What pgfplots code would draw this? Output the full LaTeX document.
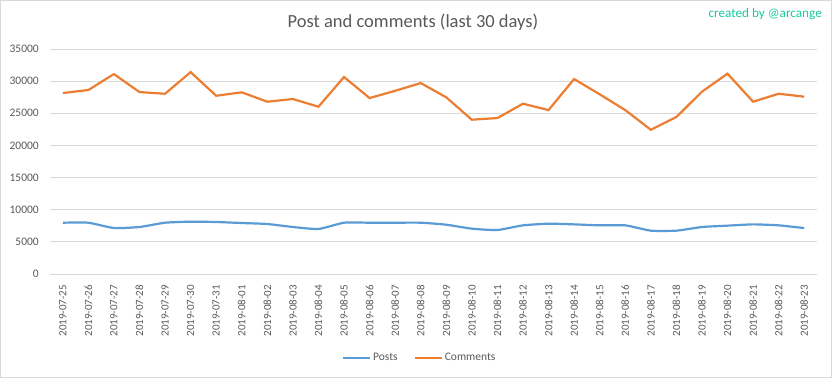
\documentclass[border=0pt]{standalone}
\usepackage{fontspec}
\setmainfont{Carlito}
\usepackage{pgfplots}
\pgfplotsset{compat=1.18}
\definecolor{postc}{HTML}{5B9BD5}
\definecolor{commc}{HTML}{ED7D31}
\definecolor{gridc}{HTML}{D9D9D9}
\definecolor{txtc}{HTML}{595959}
\definecolor{credc}{HTML}{1CC7A0}
\begin{document}
\begin{tikzpicture}[x=1pt,y=1pt]
\useasboundingbox (0,0) rectangle (832,378);
\draw[gridc, line width=1pt] (0.5,0.5) rectangle (831.5,377.5);
\begin{axis}[
  at={(50pt,104pt)}, anchor=south west,
  width=767pt, height=225pt, scale only axis,
  xmin=-0.5, xmax=29.5, ymin=0, ymax=35000,
  ytick={0,5000,...,35000},
  xtick={0,...,29},
  xticklabels={2019-07-25,2019-07-26,2019-07-27,2019-07-28,2019-07-29,2019-07-30,2019-07-31,2019-08-01,2019-08-02,2019-08-03,2019-08-04,2019-08-05,2019-08-06,2019-08-07,2019-08-08,2019-08-09,2019-08-10,2019-08-11,2019-08-12,2019-08-13,2019-08-14,2019-08-15,2019-08-16,2019-08-17,2019-08-18,2019-08-19,2019-08-20,2019-08-21,2019-08-22,2019-08-23},
  axis line style={draw=none},
  major tick length=0pt,
  ymajorgrids, grid style={gridc, line width=1pt},
  scaled y ticks=false,
  /pgf/number format/.cd, assume math mode=true, 1000 sep={}, /pgfplots/.cd,
  yticklabel style={font=\fontsize{11.5}{13}\selectfont, text=txtc, inner sep=0pt, anchor=east},
  yticklabel shift=11pt,
  xticklabel style={font=\fontsize{11}{13}\selectfont, text=txtc, inner sep=0pt, rotate=90, anchor=east},
  xticklabel shift=11pt,
  legend style={at={(0.482,-0.373)}, anchor=center, draw=none, fill=none,
    font=\fontsize{11.5}{13}\selectfont, text=txtc, legend columns=2,
    /tikz/every even column/.append style={column sep=14pt}},
  legend image code/.code={\draw[#1, line width=2.2pt] (0pt,0pt) -- (27pt,0pt);},
  clip=false,
]
\addplot[postc, line width=2.2pt, smooth, tension=0.3] coordinates {
(0,7980)(1,7980)(2,7150)(3,7310)(4,7980)(5,8140)(6,8090)(7,7930)(8,7780)(9,7310)
(10,7000)(11,7980)(12,7980)(13,7980)(14,7980)(15,7670)(16,7050)(17,6840)(18,7570)(19,7830)
(20,7720)(21,7570)(22,7570)(23,6740)(24,6740)(25,7310)(26,7520)(27,7720)(28,7570)(29,7150)};
\addlegendentry{Posts}
\addplot[commc, line width=2.2pt] coordinates {
(0,28150)(1,28620)(2,31100)(3,28300)(4,28040)(5,31400)(6,27730)(7,28260)(8,26800)(9,27220)
(10,26020)(11,30640)(12,27370)(13,28500)(14,29700)(15,27480)(16,24000)(17,24260)(18,26490)(19,25500)
(20,30330)(21,27950)(22,25500)(23,22440)(24,24420)(25,28360)(26,31160)(27,26800)(28,28040)(29,27580)};
\addlegendentry{Comments}
\end{axis}
\node[text=txtc, font=\fontsize{18.5}{20}\selectfont, anchor=center] at (413,356) {Post and comments (last 30 days)};
\node[text=credc, font=\fontsize{13.2}{15}\selectfont, anchor=east, inner sep=0pt] at (822,364) {created by @arcange};
\end{tikzpicture}
\end{document}
